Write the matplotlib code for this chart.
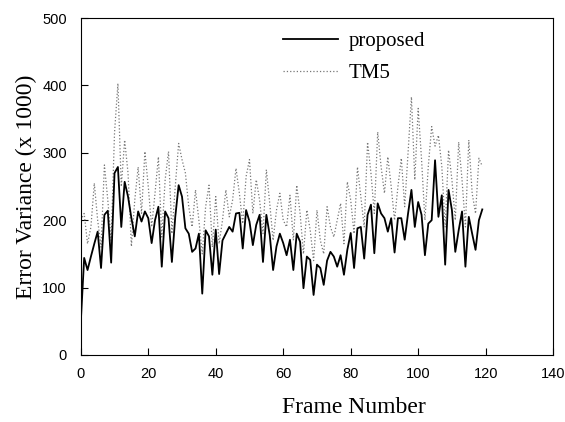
import matplotlib
matplotlib.use("Agg")
import matplotlib.pyplot as plt

# error variance per frame (x 1000)
proposed = [49, 144, 126, 146, 165, 183, 129, 208, 214, 137,
            270, 279, 190, 257, 235, 203, 176, 213, 198, 213,
            203, 166, 200, 220, 131, 213, 203, 138, 205, 252,
            235, 188, 180, 153, 158, 180, 91, 185, 176, 119,
            186, 120, 170, 180, 190, 183, 210, 211, 158, 215,
            198, 163, 193, 208, 138, 208, 178, 126, 161, 180,
            166, 148, 171, 126, 180, 168, 99, 146, 141, 89,
            134, 129, 104, 140, 153, 146, 131, 148, 119, 156,
            181, 129, 188, 190, 143, 208, 223, 151, 225, 210,
            203, 183, 203, 152, 203, 203, 171, 210, 245, 190,
            227, 208, 148, 195, 200, 289, 205, 237, 134, 245,
            215, 153, 185, 213, 131, 205, 180, 156, 200, 216]

tm5 = [200, 210, 165, 190, 255, 200, 160, 282, 230, 170,
       330, 403, 250, 319, 270, 161, 230, 279, 210, 302,
       250, 190, 240, 294, 175, 260, 302, 180, 250, 314,
       290, 270, 220, 190, 245, 200, 150, 220, 252, 160,
       235, 165, 200, 245, 205, 230, 277, 240, 195, 265,
       290, 210, 260, 230, 180, 275, 225, 170, 215, 240,
       200, 190, 237, 170, 252, 210, 150, 215, 185, 140,
       215, 170, 150, 220, 190, 175, 200, 225, 165, 257,
       230, 180, 279, 235, 190, 316, 270, 210, 331, 280,
       240, 294, 250, 200, 250, 292, 220, 300, 383, 260,
       366, 290, 200, 280, 339, 310, 326, 280, 190, 304,
       260, 200, 316, 260, 190, 319, 240, 210, 292, 280]

frames = list(range(len(proposed)))

fig = plt.figure(figsize=(5.65, 4.22), dpi=100)
ax = fig.add_axes([0.143, 0.159, 0.836, 0.798])

ax.plot(frames, tm5, color="#777777", linestyle=":", linewidth=0.9, label="TM5")
ax.plot(frames, proposed, color="black", linewidth=1.3, label="proposed")

ax.set_xlim(0, 140)
ax.set_ylim(0, 500)
ax.set_xticks(range(0, 141, 20))
ax.set_yticks(range(0, 501, 100))
ax.tick_params(direction="in", length=5, labelsize=10.5, top=False, right=False)
ax.tick_params(axis="x", pad=9)
ax.tick_params(axis="y", pad=10)
for lab in ax.get_xticklabels() + ax.get_yticklabels():
    lab.set_family("Liberation Sans")

ax.set_xlabel("Frame Number", family="Liberation Serif", fontsize=17)
ax.set_ylabel("Error Variance (x 1000)", family="Liberation Serif", fontsize=17)
ax.xaxis.set_label_coords(0.578, -0.125)
ax.yaxis.set_label_coords(-0.093, 0.5)

h, l = ax.get_legend_handles_labels()
ax.legend(h[::-1], l[::-1], loc="upper left", bbox_to_anchor=(0.411, 0.985),
          borderaxespad=0, frameon=False, handlelength=2.65, handletextpad=0.5,
          labelspacing=0.6, prop={"family": "Liberation Serif", "size": 15})

fig.savefig("out.png", dpi=100)
